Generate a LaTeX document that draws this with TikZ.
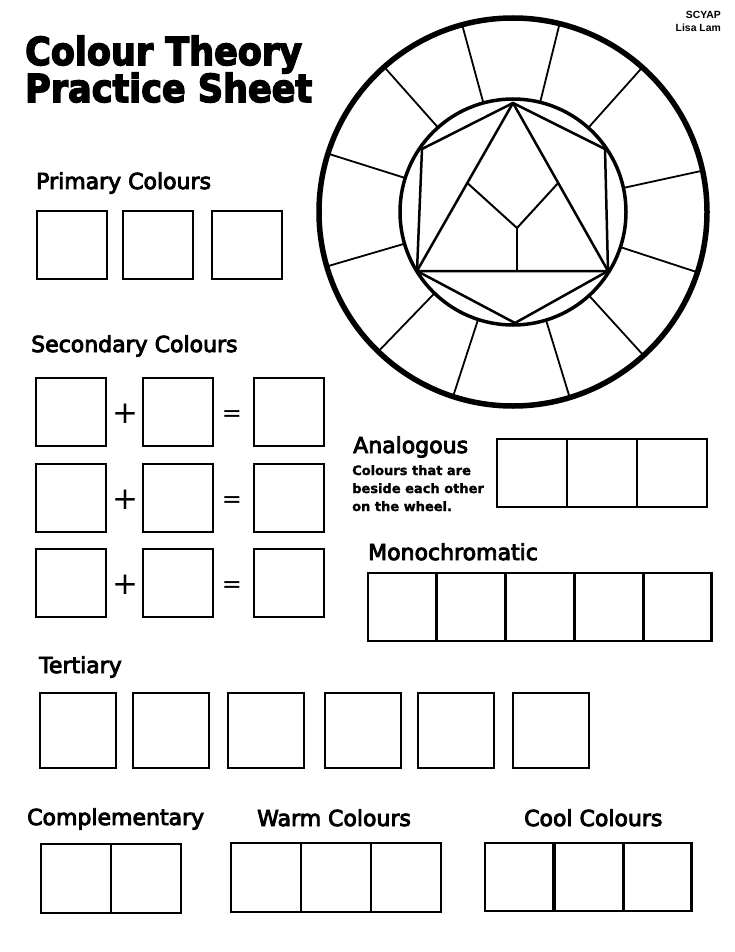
\documentclass[tikz,border=0pt]{standalone}
\usepackage{fontspec}
\setmainfont{DejaVu Sans}
\newfontfamily\headfont[FakeBold=4]{DejaVu Sans}
\newfontfamily\titlefont[FakeBold=4]{DejaVu Sans Bold}
\newfontfamily\notefont[FakeBold=1.5]{DejaVu Sans Bold}
\newfontfamily\creditfont{Liberation Sans Bold}
\usetikzlibrary{calc}
\tikzset{
  cell/.style 2 args={draw, line width=2.4pt, minimum width=#1, minimum height=#2,
    inner sep=0pt, outer sep=0pt, anchor=north west},
  head/.style={anchor=base west, inner sep=0pt, font=\headfont\fontsize{22}{26}\selectfont},
  titletext/.style={anchor=base west, inner sep=0pt, font=\titlefont\fontsize{35}{40}\selectfont},
  note/.style={anchor=base west, inner sep=0pt, font=\notefont\fontsize{13}{18}\selectfont},
  credit/.style={anchor=base east, inner sep=0pt, font=\creditfont\fontsize{10.4}{12}\selectfont},
  plussym/.style={inner sep=0pt, font=\fontsize{31}{31}\selectfont},
  eqsym/.style={inner sep=0pt, font=\fontsize{24}{24}\selectfont},
  rim/.style={line width=5.5pt},
  hub/.style={line width=3.5pt},
  spoke/.style={line width=1.8pt},
  facet/.style={line width=2.5pt, line join=round},
  yline/.style={line width=2pt},
}
\begin{document}
\begin{tikzpicture}[x=1pt,y=-1pt]
\useasboundingbox[fill=white] (0,0) rectangle (735,952);

% credits
\node[credit] (cr1) at (721,19) {SCYAP};
\node[credit] (cr2) at (721,32) {Lisa Lam};

% title
\node[titletext] (ti1) at (25,65) {\scalebox{1}[1.1]{Colour Theory}};
\node[titletext] (ti2) at (25,102) {\scalebox{1}[1.1]{Practice Sheet}};

% colour wheel
\coordinate (wc) at (513,212);
\draw[rim] (wc) circle[radius=194];
\draw[hub] (wc) circle[radius=113];
\foreach \a in {-105.2,-76.1,-48.2,-12.3,18.1,47.7,73,108,134,163.7,-162.5,-131.6}
  \draw[spoke] ($(wc)+(\a:114)$) -- ($(wc)+(\a:193)$);
\coordinate (hT) at (513,103);
\coordinate (hUR) at (605,149);
\coordinate (hBR) at (608,271);
\coordinate (hB) at (515,323);
\coordinate (hBL) at (417,271);
\coordinate (hUL) at (422,149);
\draw[facet] (hT) -- (hUR) -- (hBR) -- (hB) -- (hBL) -- (hUL) -- cycle;
\draw[facet] (hT) -- (hBR) -- (hBL) -- cycle;
\coordinate (yc) at (517,228);
\coordinate (ybase) at (517,271);
\draw[yline] ($(hT)!0.476!(hBL)$) -- (yc) -- ($(hT)!0.476!(hBR)$);
\draw[yline] (yc) -- (ybase);

% primary
\node[head] (hprim) at (36,189) {Primary Colours};
\node[cell={70pt}{68pt}] (p1) at (37,211) {};
\node[cell={70pt}{68pt}] (p2) at (123,211) {};
\node[cell={70pt}{68pt}] (p3) at (212,211) {};

% secondary
\node[head] (hsec) at (31,352) {Secondary Colours};
\foreach \r/\y in {1/378,2/464,3/549}{
  \node[cell={70pt}{68pt}] (sa\r) at (36,\y) {};
  \node[cell={70pt}{68pt}] (sb\r) at (143,\y) {};
  \node[cell={70pt}{68pt}] (sc\r) at (254,\y) {};
  \node[plussym] (pl\r) at (125,\y+36) {+};
  \node[eqsym] (eq\r) at (232,\y+38) {=};
}

% analogous
\node[head] (hana) at (353,453) {Analogous};
\node[note] (an1) at (352,475) {Colours that are};
\node[note] (an2) at (352,493) {beside each other};
\node[note] (an3) at (352,511) {on the wheel.};
\foreach \i/\x in {1/497,2/567,3/637}
  \node[cell={70pt}{68pt}] (a\i) at (\x,439) {};

% monochromatic
\node[head] (hmono) at (368,560) {Monochromatic};
\foreach \i/\x in {1/368,2/437,3/506,4/575,5/643}
  \node[cell={68.6pt}{68pt}] (m\i) at (\x,573) {};

% tertiary
\node[head] (hter) at (39,673) {Tertiary};
\foreach \i/\x in {1/40,2/133,3/228,4/325,5/418,6/513}
  \node[cell={76pt}{75pt}] (t\i) at (\x,693) {};

% complementary, warm, cool
\node[head] (hcomp) at (27,825) {Complementary};
\node[head] (hwarm) at (257,826) {Warm Colours};
\node[head] (hcool) at (524,826) {Cool Colours};
\foreach \i/\x in {1/41,2/111}
  \node[cell={70pt}{69pt}] (c\i) at (\x,844) {};
\foreach \i/\x in {1/231,2/301,3/371}
  \node[cell={70pt}{69pt}] (w\i) at (\x,843) {};
\foreach \i/\x in {1/485,2/555,3/623}
  \node[cell={68.5pt}{68pt}] (k\i) at (\x,843) {};
\end{tikzpicture}
\end{document}
